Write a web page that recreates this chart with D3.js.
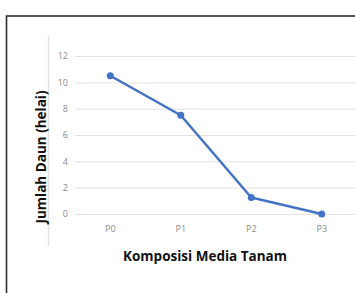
<!DOCTYPE html>
<html><head><meta charset="utf-8">
<script src="https://cdn.jsdelivr.net/npm/d3@7"></script>
<style>html,body{margin:0;padding:0;background:#fff;overflow:hidden}</style>
</head><body>
<script>
const categories = ["P0", "P1", "P2", "P3"];
const values = [10.5, 7.5, 1.25, 0];
const yTicks = [0, 2, 4, 6, 8, 10, 12];
const xTitle = "Komposisi Media Tanam";
const yTitle = "Jumlah Daun (helai)";

const W = 355, H = 293;
const svg = d3.select("body").append("svg").attr("width", W).attr("height", H);
svg.append("rect").attr("width", W).attr("height", H).attr("fill", "#fff");
// outer frame
svg.append("rect").attr("x", 6.5).attr("y", 16).attr("width", 400).attr("height", 400)
  .attr("fill", "none").attr("stroke", "#2e2e2e").attr("stroke-width", 1.6);
// light vertical line at left
svg.append("line").attr("x1", 48.5).attr("x2", 48.5).attr("y1", 36).attr("y2", 246)
  .attr("stroke", "#e3e3e3").attr("stroke-width", 1.5);

const x = d3.scaleBand().domain(categories).range([75, 357]);
const y = d3.scaleLinear().domain([0, 12]).range([214, 56]);

const font = "'Open Sans', Lato, sans-serif";
// gridlines
const yAxis = d3.axisLeft(y).tickValues(yTicks).tickSize(-(W - 75)).tickPadding(7);
const gy = svg.append("g").attr("transform", "translate(75,0)").call(yAxis);
gy.select(".domain").remove();
gy.selectAll(".tick line").attr("stroke", "#e2e2e2").attr("stroke-width", 1);
gy.selectAll(".tick text").attr("fill", "#8a8a8a").attr("font-size", 9).attr("font-family", font);

const xAxis = d3.axisBottom(x).tickSize(0).tickPadding(12);
const gx = svg.append("g").attr("transform", "translate(0,214)").call(xAxis);
gx.select(".domain").remove();
gx.selectAll(".tick text").attr("fill", "#8a8a8a").attr("font-size", 9).attr("font-family", font);

const cx = d => x(d) + x.bandwidth() / 2;
const data = categories.map((c, i) => ({c, v: values[i]}));
svg.append("path").datum(data)
  .attr("d", d3.line().x(d => cx(d.c)).y(d => y(d.v)))
  .attr("fill", "none").attr("stroke", "#4472C4").attr("stroke-width", 2.5).attr("stroke-linejoin", "round");
svg.selectAll("circle.pt").data(data).enter().append("circle")
  .attr("cx", d => cx(d.c)).attr("cy", d => y(d.v)).attr("r", 3.5).attr("fill", "#4472C4");

svg.append("text").attr("x", 205).attr("y", 261).attr("text-anchor", "middle")
  .attr("font-family", font).attr("font-weight", "bold").attr("font-size", 13.5).attr("fill", "#111").text(xTitle);
svg.append("text").attr("transform", "translate(46,157) rotate(-90)").attr("text-anchor", "middle")
  .attr("font-family", font).attr("font-weight", "bold").attr("font-size", 13.5).attr("fill", "#111").text(yTitle);
</script>
</body></html>
